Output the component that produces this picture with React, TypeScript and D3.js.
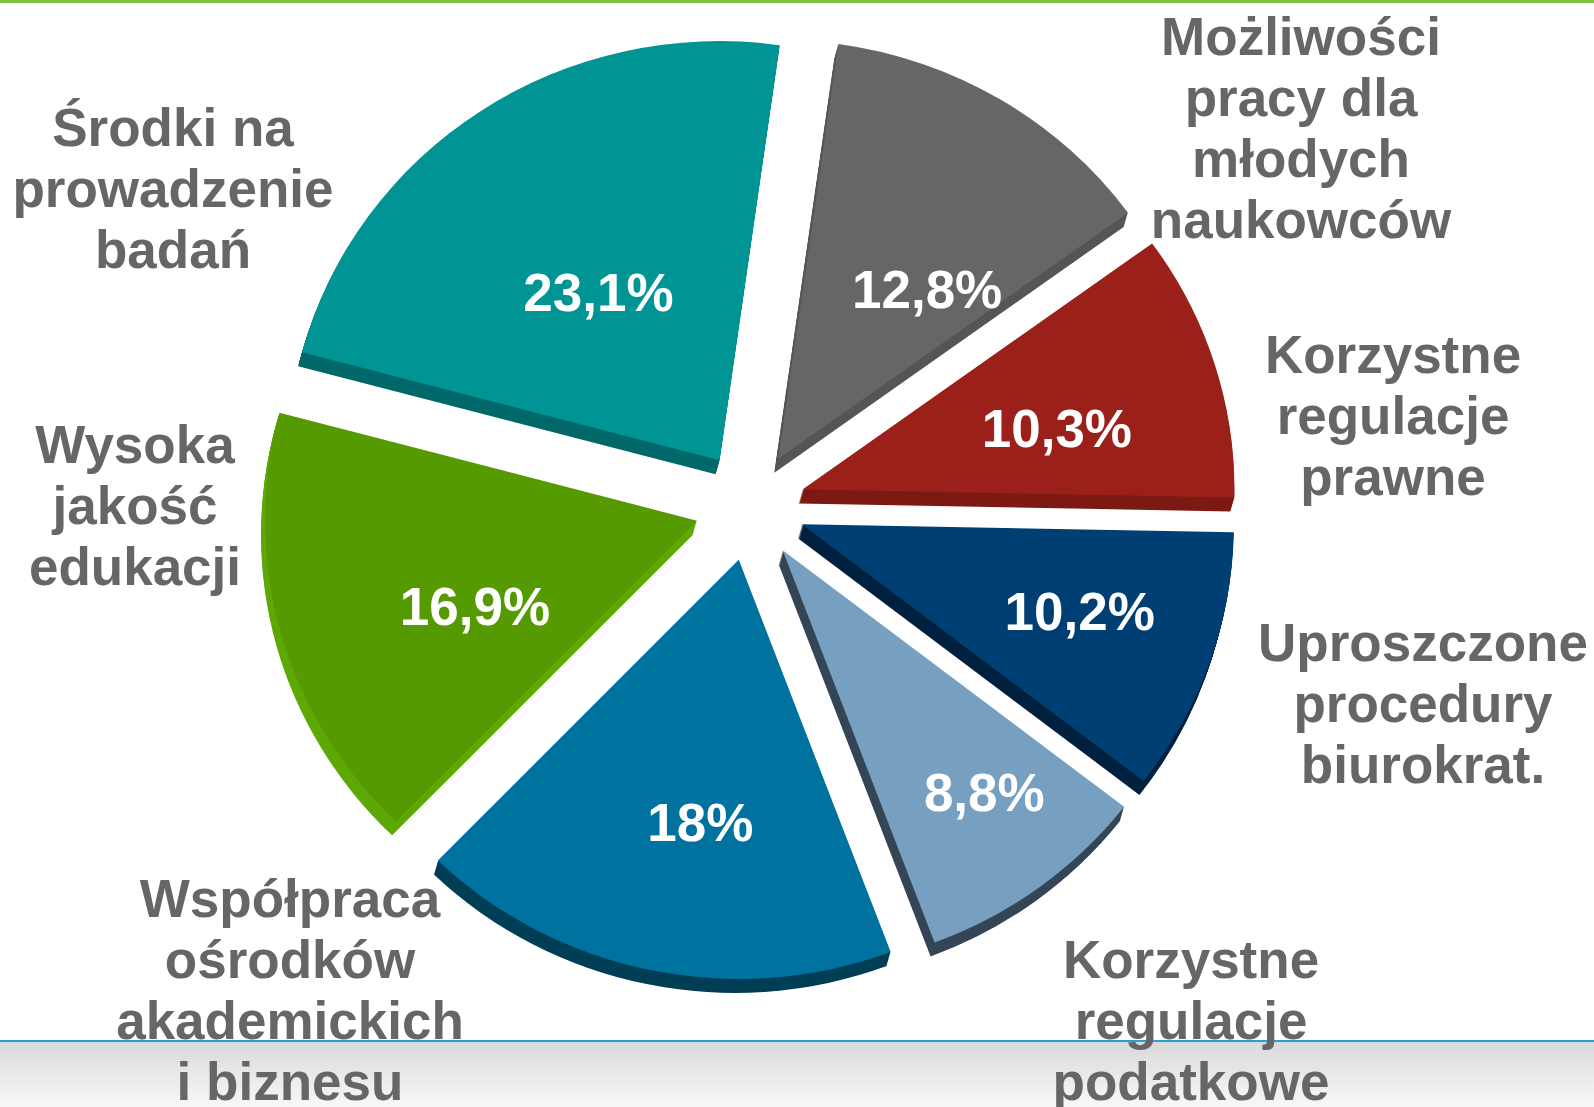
import React from "react";
import * as d3 from "d3";

const categories = [
  "Możliwości pracy dla młodych naukowców",
  "Korzystne regulacje prawne",
  "Uproszczone procedury biurokrat.",
  "Korzystne regulacje podatkowe",
  "Współpraca ośrodków akademickich i biznesu",
  "Wysoka jakość edukacji",
  "Środki na prowadzenie badań",
];
const categoryLines = [
  ["Możliwości", "pracy dla", "młodych", "naukowców"],
  ["Korzystne", "regulacje", "prawne"],
  ["Uproszczone", "procedury", "biurokrat."],
  ["Korzystne", "regulacje", "podatkowe"],
  ["Współpraca", "ośrodków", "akademickich", "i biznesu"],
  ["Wysoka", "jakość", "edukacji"],
  ["Środki na", "prowadzenie", "badań"],
];
const values = [12.8, 10.3, 10.2, 8.8, 18, 16.9, 23.1];
const valueLabels = ["12,8%", "10,3%", "10,2%", "8,8%", "18%", "16,9%", "23,1%"];

// layout (not data)
const faceColors = ["#666666", "#9a2019", "#003f74", "#779fc0", "#0072a0", "#559a00", "#009494"];
const sideColors = ["#555555", "#7c1913", "#00213d", "#344656", "#003e55", "#5ea806", "#006868"];
const labelDist = [229, 262, 292, 321, 274, 239, 211];
const labelTurn = [9.5, 3.6, -1.5, -2.5, -3.7, -6.2, -1.5];
const catPos: [number, number][] = [
  [1301, 36], [1393, 354], [1423, 642], [1191, 959], [290, 898], [135, 444], [173, 127],
];

const W = 1594, H = 1107;
const cx = 750, cy = 506, R = 432, ky = 0.97, explode = 55;
const depthX = -4, depthY = 14;
const lineH = 61;

export default function App() {
  const pie = d3
    .pie<number>()
    .sort(null)
    .value((d) => d)
    .startAngle((8 * Math.PI) / 180)
    .endAngle((8 * Math.PI) / 180 + 2 * Math.PI);
  const arcs = pie(values);
  const arc = d3.arc<d3.PieArcDatum<number>>().innerRadius(0).outerRadius(R);
  const font = "'Liberation Sans', Arial, Helvetica, sans-serif";

  const slices = arcs.map((a, i) => {
    const mid = (a.startAngle + a.endAngle) / 2;
    const ox = cx + explode * Math.sin(mid);
    const oy = cy - explode * Math.cos(mid);
    const d = arc(a) || "";
    const steps = d3.range(1, 15).map((k) => k / 14);
    const la = mid + (labelTurn[i] * Math.PI) / 180;
    const lx = ox + labelDist[i] * Math.sin(la);
    const ly = oy - labelDist[i] * Math.cos(la) * ky;
    return { d, ox, oy, i, lx, ly, steps };
  });

  return (
    <div style={{ position: "absolute", left: 0, top: 0, width: W, height: H }}>
      <svg width={W} height={H} viewBox={`0 0 ${W} ${H}`} style={{ display: "block" }}>
        <defs>
          <linearGradient id="band" x1="0" y1="0" x2="0" y2="1">
            <stop offset="0" stopColor="#d9d9d9" />
            <stop offset="1" stopColor="#f8f8f8" />
          </linearGradient>
        </defs>
        <rect x={0} y={0} width={W} height={H} fill="#ffffff" />
        <rect x={0} y={1042} width={W} height={H - 1042} fill="url(#band)" />
        <rect x={0} y={1040} width={W} height={2} fill="#2a9fd6" />
        <rect x={0} y={0} width={W} height={3} fill="#7cc142" />

        {slices.map((s) => (
          <g key={"side" + s.i}>
            {s.steps.map((t, k) => (
              <path
                key={k}
                d={s.d}
                fill={sideColors[s.i]}
                transform={`translate(${s.ox + depthX * t},${s.oy + depthY * t}) scale(1,${ky})`}
              />
            ))}
          </g>
        ))}
        {slices.map((s) => (
          <path
            key={"face" + s.i}
            d={s.d}
            fill={faceColors[s.i]}
            transform={`translate(${s.ox},${s.oy}) scale(1,${ky})`}
          />
        ))}
        {slices.map((s) => (
          <text
            key={"v" + s.i}
            x={s.lx}
            y={s.ly}
            fill="#ffffff"
            fontFamily={font}
            fontWeight="bold"
            fontSize={53}
            textAnchor="middle"
            dominantBaseline="central"
          >
            {valueLabels[s.i]}
          </text>
        ))}
        {categoryLines.map((lines, i) => (
          <text
            key={"c" + i}
            fill="#666666"
            fontFamily={font}
            fontWeight="bold"
            fontSize={53}
            textAnchor="middle"
            aria-label={categories[i]}
          >
            {lines.map((ln, j) => (
              <tspan key={j} x={catPos[i][0]} y={catPos[i][1] + j * lineH} dominantBaseline="central">
                {ln}
              </tspan>
            ))}
          </text>
        ))}
      </svg>
    </div>
  );
}
